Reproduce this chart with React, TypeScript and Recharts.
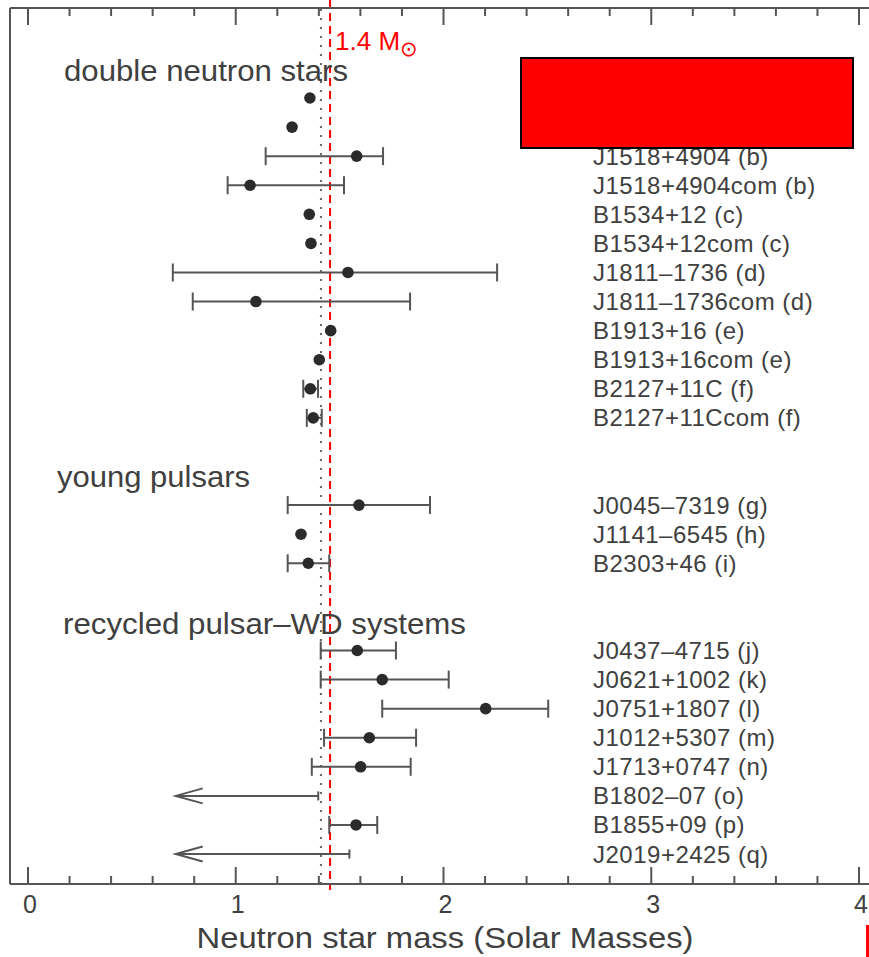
import { ScatterChart, Scatter, XAxis, YAxis, ErrorBar, ReferenceLine } from 'recharts'

// page has an 8px body margin by default, the figure sits flush at 0,0
document.body.style.margin = '0'
document.body.style.overflow = 'hidden'

// ─── Data ─────────────────────────────────────────────────────────────────────

// first two labels are hidden under the red box in the reference
const pulsarNames = [
  '', '',
  'J1518+4904 (b)', 'J1518+4904com (b)', 'B1534+12 (c)', 'B1534+12com (c)',
  'J1811–1736 (d)', 'J1811–1736com (d)', 'B1913+16 (e)', 'B1913+16com (e)',
  'B2127+11C (f)', 'B2127+11Ccom (f)',
  'J0045–7319 (g)', 'J1141–6545 (h)', 'B2303+46 (i)',
  'J0437–4715 (j)', 'J0621+1002 (k)', 'J0751+1807 (l)', 'J1012+5307 (m)',
  'J1713+0747 (n)', 'B1802–07 (o)', 'B1855+09 (p)', 'J2019+2425 (q)',
]

// row slot on the vertical axis (gaps leave room for the group headings)
const rowSlots = [0, 1, 2, 3, 4, 5, 6, 7, 8, 9, 10, 11, 14, 15, 16, 19, 20, 21, 22, 23, 24, 25, 26]

const massValues = [
  1.357, 1.271, 1.582, 1.069, 1.354, 1.362, 1.540, 1.097, 1.457, 1.402, 1.359, 1.373,
  1.593, 1.314, 1.349,
  1.585, 1.705, 2.203, 1.643, 1.601, null, 1.579, null,
]
const lowerBounds = [
  null, null, 1.144, 0.961, null, null, 0.697, 0.793, null, null, 1.325, 1.342,
  1.250, null, 1.250,
  1.409, 1.409, 1.705, 1.425, 1.366, null, 1.450, null,
]
const upperBounds = [
  null, null, 1.709, 1.521, null, null, 2.258, 1.839, null, null, 1.396, 1.414,
  1.935, null, 1.450,
  1.771, 2.025, 2.504, 1.868, 1.842, null, 1.681, null,
]
// upper limits, drawn as arrows pointing left
const upperLimits = [
  null, null, null, null, null, null, null, null, null, null, null, null,
  null, null, null,
  null, null, null, null, null, 1.397, null, 1.547,
]
const arrowTip = 0.711

const groupNames = ['double neutron stars', 'young pulsars', 'recycled pulsar–WD systems']
const groupSlots = [-0.894, 13.08, 18.14]

const xTicks = [0, 0.2, 0.4, 0.6, 0.8, 1, 1.2, 1.4, 1.6, 1.8, 2, 2.2, 2.4, 2.6, 2.8, 3, 3.2, 3.4, 3.6, 3.8, 4]
const dottedMass = 1.41
const canonicalMass = 1.454

// ─── Derived tables ───────────────────────────────────────────────────────────

const withErr = massValues
  .map((m, i) => ({ m, i }))
  .filter(({ m, i }) => m !== null && lowerBounds[i] !== null)
  .map(({ m, i }) => ({
    x: m as number,
    y: rowSlots[i],
    err: [(m as number) - (lowerBounds[i] as number), (upperBounds[i] as number) - (m as number)],
  }))

const noErr = massValues
  .map((m, i) => ({ m, i }))
  .filter(({ m, i }) => m !== null && lowerBounds[i] === null)
  .map(({ m, i }) => ({ x: m as number, y: rowSlots[i] }))

const limitSeries = upperLimits
  .map((l, i) => ({ l, i }))
  .filter(({ l }) => l !== null)
  .map(({ l, i }) => [
    { x: arrowTip, y: rowSlots[i], kind: 'tip' },
    { x: l as number, y: rowSlots[i], kind: 'cap' },
  ])

const labelBySlot: Record<string, string> = {}
rowSlots.forEach((s, i) => { labelBySlot[String(s)] = pulsarNames[i] })
const headerBySlot: Record<string, string> = {}
groupSlots.forEach((s, i) => { headerBySlot[String(s)] = groupNames[i] })

// ─── Styling ──────────────────────────────────────────────────────────────────

const FONT = '"Liberation Sans", Arial, Helvetica, sans-serif'
const INK = '#404040'
const AXIS = '#555'
const DOT = '#2b2b2b'

const headerX = [64, 57, 63]
const headerLen = [284, 193, 403]

// ─── Ticks & shapes ───────────────────────────────────────────────────────────

function isMajor(v: number) {
  return Math.abs(v - Math.round(v)) < 1e-6
}

function BottomTick({ x, y, payload }: any) {
  const v = payload.value
  const major = isMajor(v)
  return (
    <g>
      <line x1={x} x2={x} y1={y} y2={y - (major ? 17 : 8)} stroke={AXIS} strokeWidth={2} />
      {major && (
        <text x={x + 2} y={y + 29} textAnchor="middle" fontSize={25} fill={INK} fontFamily={FONT}>
          {Math.round(v)}
        </text>
      )}
    </g>
  )
}

function TopTick({ x, y, payload }: any) {
  const major = isMajor(payload.value)
  return <line x1={x} x2={x} y1={y} y2={y + (major ? 17 : 8)} stroke={AXIS} strokeWidth={2} />
}

function RowTick({ y, payload }: any) {
  const key = String(payload.value)
  if (headerBySlot[key] !== undefined) {
    const gi = groupNames.indexOf(headerBySlot[key])
    return (
      <text x={headerX[gi]} y={y + 8.7} fontSize={29} fill={INK} fontFamily={FONT}
        textLength={headerLen[gi]} lengthAdjust="spacingAndGlyphs">
        {headerBySlot[key]}
      </text>
    )
  }
  const name = labelBySlot[key]
  if (!name) return <g />
  return (
    <text x={593} y={y + 8.5} fontSize={24} letterSpacing={0.5} fill={INK} fontFamily={FONT}>
      {name}
    </text>
  )
}

function Dot({ cx, cy }: any) {
  return <circle cx={cx} cy={cy} r={5.8} fill={DOT} />
}

function LimitEnd({ cx, cy, payload }: any) {
  if (payload.kind === 'tip') {
    return (
      <path d={`M${cx + 27},${cy - 7.5} L${cx},${cy} L${cx + 27},${cy + 7.5}`}
        fill="none" stroke={AXIS} strokeWidth={2} />
    )
  }
  return <line x1={cx} x2={cx} y1={cy - 4.5} y2={cy + 4.5} stroke={AXIS} strokeWidth={2} />
}

function SolarLabel({ viewBox }: any) {
  return (
    <text x={viewBox.x + 5} y={50} fill="#ff0000" fontSize={26} fontFamily={FONT}>
      1.4 M
      <tspan fontSize={21} dy={6} fontFamily='"DejaVu Sans", sans-serif'>⊙</tspan>
    </text>
  )
}

function AxisTitle() {
  return (
    <text x={445} y={948} textAnchor="middle" fontSize={30} fill={INK} fontFamily={FONT}
      textLength={497} lengthAdjust="spacingAndGlyphs">
      Neutron star mass (Solar Masses)
    </text>
  )
}

// ─── Component ────────────────────────────────────────────────────────────────

export default function App() {
  const xDomain = [-0.0866, 4.101]
  return (
    <div style={{ position: 'relative', width: 869, height: 957, overflow: 'hidden', background: '#fff' }}>
      <ScatterChart width={880} height={957} margin={{ top: 0, right: 0, bottom: 0, left: 0 }}>
        <XAxis
          type="number" dataKey="x" domain={xDomain} allowDataOverflow ticks={xTicks} interval={0}
          height={73} tickSize={0} tickMargin={0} tickLine={false}
          axisLine={{ stroke: AXIS, strokeWidth: 2 }} tick={<BottomTick />}
          label={<AxisTitle />}
        />
        <XAxis
          xAxisId="top" orientation="top" type="number" dataKey="x" domain={xDomain} allowDataOverflow
          ticks={xTicks} interval={0} height={8} tickSize={0} tickMargin={0} tickLine={false}
          axisLine={{ stroke: AXIS, strokeWidth: 2 }} tick={<TopTick />}
        />
        <YAxis
          type="number" dataKey="y" domain={[-3.095, 27.03]} allowDataOverflow reversed width={10}
          ticks={[...rowSlots, ...groupSlots]} interval={0} tickSize={0} tickMargin={0} tickLine={false}
          axisLine={{ stroke: AXIS, strokeWidth: 2 }} tick={<RowTick />}
        />
        <ReferenceLine x={dottedMass} stroke="#666" strokeWidth={2} strokeDasharray="2 7" />
        <ReferenceLine
          segment={[{ x: canonicalMass, y: -3.37 }, { x: canonicalMass, y: 27.24 }]}
          ifOverflow="visible" stroke="#ff0000" strokeWidth={2} strokeDasharray="8 5"
          label={<SolarLabel />}
        />
        <Scatter data={withErr} shape={<Dot />} isAnimationActive={false}>
          <ErrorBar dataKey="err" direction="x" width={9} stroke={AXIS} strokeWidth={2} isAnimationActive={false} />
        </Scatter>
        <Scatter data={noErr} shape={<Dot />} isAnimationActive={false} />
        {limitSeries.map((pts, k) => (
          <Scatter key={k} data={pts} shape={<LimitEnd />} line={{ stroke: AXIS, strokeWidth: 2 }}
            isAnimationActive={false} />
        ))}
      </ScatterChart>
      <div style={{
        position: 'absolute', left: 520, top: 57, width: 334, height: 92, boxSizing: 'border-box',
        background: '#ff0000', border: '2px solid #000',
      }} />
      <div style={{ position: 'absolute', left: 866, top: 925, width: 3, height: 32, background: '#ff0000' }} />
    </div>
  )
}
